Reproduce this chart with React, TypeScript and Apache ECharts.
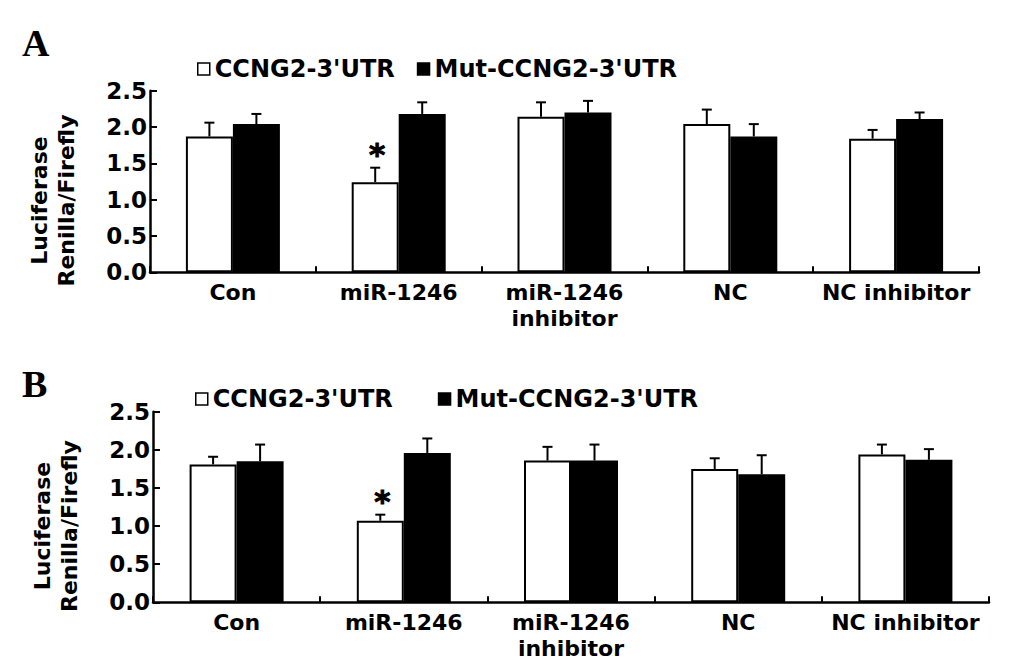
import React, { useEffect, useRef } from "react";
import * as echarts from "echarts";

const categories = ["Con", "miR-1246", "miR-1246\ninhibitor", "NC", "NC inhibitor"];
const seriesNames = ["CCNG2-3'UTR", "Mut-CCNG2-3'UTR"];
const yTicks = { min: 0, max: 2.5, interval: 0.5 };

// Panel A
const aWild = [1.87, 1.24, 2.14, 2.04, 1.84];
const aWildErr = [0.19, 0.2, 0.2, 0.2, 0.12];
const aMut = [2.04, 2.18, 2.2, 1.87, 2.11];
const aMutErr = [0.14, 0.16, 0.16, 0.17, 0.09];
const aMarks = ["", "*", "", "", ""];

// Panel B
const bWild = [1.81, 1.07, 1.86, 1.75, 1.94];
const bWildErr = [0.1, 0.08, 0.18, 0.14, 0.13];
const bMut = [1.85, 1.96, 1.86, 1.68, 1.87];
const bMutErr = [0.22, 0.19, 0.21, 0.25, 0.14];
const bMarks = ["", "*", "", "", ""];

const FONT = "'DejaVu Sans', Arial, sans-serif";
const BAR_W = 47;

function errorSeries(values: number[], errs: number[], marks: string[], offset: number, axisIndex: number) {
  return {
    type: "custom",
    xAxisIndex: axisIndex,
    yAxisIndex: axisIndex,
    z: 5,
    silent: true,
    data: values.map((v, i) => [i, v, errs[i]]),
    renderItem: (params: any, api: any) => {
      const idx = api.value(0);
      const v = api.value(1);
      const e = api.value(2);
      const base = api.coord([idx, v]);
      const top = api.coord([idx, v + e]);
      const x = base[0] + offset;
      const children: any[] = [
        { type: "line", shape: { x1: x, y1: base[1], x2: x, y2: top[1] }, style: { stroke: "#000", lineWidth: 2 } },
        { type: "line", shape: { x1: x - 5, y1: top[1], x2: x + 5, y2: top[1] }, style: { stroke: "#000", lineWidth: 2 } },
      ];
      const m = marks[params.dataIndex];
      if (m) {
        children.push({
          type: "text",
          x: x + 2,
          y: top[1] - 14,
          style: { text: m, fill: "#000", stroke: "#000", lineWidth: 1, font: `bold 31px ${FONT}`, align: "center", verticalAlign: "middle" },
        });
      }
      return { type: "group", children };
    },
  };
}

function barSeries(name: string, values: number[], fill: string, axisIndex: number) {
  return {
    name,
    type: "bar",
    xAxisIndex: axisIndex,
    yAxisIndex: axisIndex,
    barWidth: BAR_W,
    barGap: "0%",
    data: values,
    itemStyle: { color: fill, borderColor: "#000", borderWidth: 2 },
  };
}

function xAxis(gridIndex: number) {
  return {
    type: "category",
    gridIndex,
    data: categories,
    axisLine: { lineStyle: { color: "#000", width: 2.5 } },
    axisTick: { show: true, inside: true, length: 6, interval: 0, alignWithLabel: false, lineStyle: { color: "#000", width: 2 } },
    axisLabel: { interval: 0, color: "#000", fontFamily: FONT, fontWeight: "bold", fontSize: 22, lineHeight: 26, margin: 7 },
    splitLine: { show: false },
  };
}

function yAxis(gridIndex: number) {
  return {
    type: "value",
    gridIndex,
    min: yTicks.min,
    max: yTicks.max,
    interval: yTicks.interval,
    name: "Luciferase\nRenilla/Firefly",
    nameLocation: "middle",
    nameRotate: 90,
    nameGap: 70,
    nameTextStyle: { color: "#000", fontFamily: FONT, fontWeight: "bold", fontSize: 22, lineHeight: 27, padding: [0, 38, 0, 0] },
    axisLine: { show: true, lineStyle: { color: "#000", width: 2.5 } },
    axisTick: { show: true, inside: true, length: 7, lineStyle: { color: "#000", width: 2 } },
    axisLabel: { color: "#000", fontFamily: FONT, fontWeight: "bold", fontSize: 23, margin: 3, formatter: (v: number) => v.toFixed(1) },
    splitLine: { show: false },
  };
}

function legend(left: number, top: number, gap: number) {
  return {
    left,
    top,
    padding: 0,
    itemGap: gap,
    itemWidth: 12,
    itemHeight: 12,
    icon: "rect",
    selectedMode: false,
    data: seriesNames,
    itemStyle: { borderWidth: 1.5, borderColor: "#000" },
    textStyle: { color: "#000", fontFamily: FONT, fontWeight: "bold", fontSize: 24 },
  };
}

export default function App() {
  const ref = useRef<HTMLDivElement>(null);
  useEffect(() => {
    if (!ref.current) return;
    const chart = echarts.init(ref.current, undefined, { renderer: "svg" });
    chart.setOption({
      animation: false,
      backgroundColor: "#fff",
      grid: [
        { left: 150, right: 54, top: 90.7, height: 181.6 },
        { left: 153, right: 44, top: 411.8, height: 190.5 },
      ],
      legend: [legend(197, 57, 22), legend(195, 387, 45)],
      xAxis: [xAxis(0), xAxis(1)],
      yAxis: [yAxis(0), yAxis(1)],
      graphic: [
        { type: "text", left: 22, top: 24, style: { text: "A", font: "bold 38px 'Liberation Serif', 'Times New Roman', serif", fill: "#000" } },
        { type: "text", left: 22, top: 365, style: { text: "B", font: "bold 38px 'Liberation Serif', 'Times New Roman', serif", fill: "#000" } },
      ],
      series: [
        barSeries(seriesNames[0], aWild, "#fff", 0),
        barSeries(seriesNames[1], aMut, "#000", 0),
        errorSeries(aWild, aWildErr, aMarks, -BAR_W / 2, 0),
        errorSeries(aMut, aMutErr, ["", "", "", "", ""], BAR_W / 2, 0),
        barSeries(seriesNames[0], bWild, "#fff", 1),
        barSeries(seriesNames[1], bMut, "#000", 1),
        errorSeries(bWild, bWildErr, bMarks, -BAR_W / 2, 1),
        errorSeries(bMut, bMutErr, ["", "", "", "", ""], BAR_W / 2, 1),
      ],
    });
    return () => chart.dispose();
  }, []);
  return <div ref={ref} style={{ position: "absolute", left: 0, top: 0, width: 1033, height: 668 }} />;
}
